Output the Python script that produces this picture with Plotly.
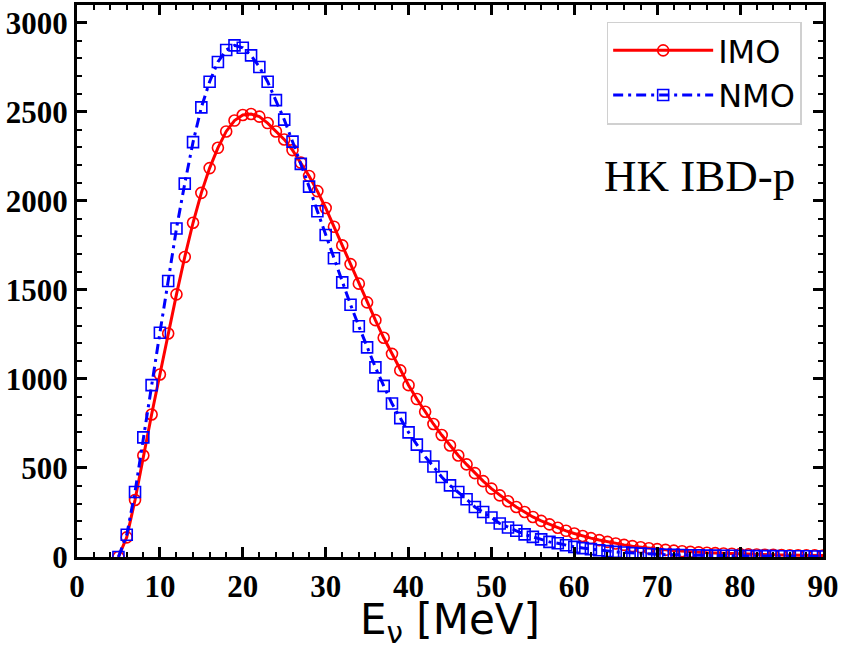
import plotly.graph_objects as go

# neutrino energy grid [MeV]
energy = list(range(5, 91))

# event spectra
imo_counts = [
    0, 110, 320, 570, 800, 1025, 1255, 1475, 1685, 1877,
    2045, 2184, 2298, 2390, 2451, 2482, 2488, 2473, 2437, 2390,
    2345, 2285, 2215, 2140, 2055, 1960, 1855, 1750, 1645, 1535,
    1430, 1330, 1231, 1141, 1048, 965, 887, 816, 747, 685,
    626, 570, 520, 471, 426, 384, 346, 313, 281, 253,
    225, 203, 183, 164, 147, 132, 118, 106, 95, 85,
    76, 68, 61, 55, 49, 44, 40, 36, 32, 29,
    26, 24, 22, 20, 18, 16, 15, 14, 13, 12,
    11, 10, 10, 9, 9, 8,
]
nmo_counts = [
    0, 125, 365, 672, 965, 1259, 1550, 1845, 2097, 2330,
    2525, 2669, 2780, 2847, 2873, 2860, 2817, 2752, 2669, 2566,
    2456, 2333, 2208, 2080, 1942, 1808, 1678, 1542, 1417, 1296,
    1177, 1065, 961, 862, 780, 700, 631, 564, 508, 449,
    402, 365, 324, 281, 253, 222, 188, 166, 147, 127,
    113, 99, 85, 77, 66, 57, 50, 44, 38, 33,
    29, 25, 22, 19, 17, 15, 13, 12, 11, 10,
    9, 8, 8, 7, 7, 6, 6, 5, 5, 5,
    4, 4, 4, 4, 3, 3,
]

x_ticks = [0, 10, 20, 30, 40, 50, 60, 70, 80, 90]
y_ticks = [0, 500, 1000, 1500, 2000, 2500, 3000]

fig = go.Figure()

fig.add_trace(go.Scatter(
    x=energy, y=imo_counts, name="IMO", mode="lines+markers",
    line=dict(color="#ff0000", width=3),
    marker=dict(symbol="circle-open", size=11, color="#ff0000", line=dict(width=1.6)),
))
fig.add_trace(go.Scatter(
    x=energy, y=nmo_counts, name="NMO", mode="lines+markers",
    line=dict(color="#0000ff", width=3, dash="10px,5px,3px,5px"),
    marker=dict(symbol="square-open", size=11, color="#0000ff", line=dict(width=1.6)),
))

tick_font = dict(family="Liberation Serif", size=31, color="black", weight="bold")
axis_common = dict(
    showline=True, linecolor="black", linewidth=3, mirror="allticks",
    ticks="inside", ticklen=10, tickwidth=3, tickcolor="black",
    showgrid=False, zeroline=False, tickfont=tick_font,
)

fig.update_xaxes(
    range=[0, 90], tickvals=x_ticks,
    minor=dict(dtick=2, ticks="inside", ticklen=5, tickwidth=1.5, tickcolor="black"),
    title=dict(text="E<sub>ν</sub> [MeV]", font=dict(family="DejaVu Sans", size=42, color="black"),
               standoff=13),
    **axis_common,
)
fig.update_yaxes(
    range=[0, 3100], tickvals=y_ticks,
    minor=dict(dtick=100, ticks="inside", ticklen=5, tickwidth=1.5, tickcolor="black"),
    **axis_common,
)

fig.add_annotation(
    text="HK IBD-p", xref="paper", yref="paper", x=0.965, y=0.69,
    xanchor="right", yanchor="middle", showarrow=False,
    font=dict(family="Liberation Serif", size=45, color="black"),
)

fig.update_layout(
    width=842, height=650,
    margin=dict(l=77, r=19, t=2, b=93),
    plot_bgcolor="white", paper_bgcolor="white",
    legend=dict(
        x=0.71, y=0.97, xanchor="left", yanchor="top",
        font=dict(family="DejaVu Sans", size=32, color="black"),
        bgcolor="white", bordercolor="#d0d0d0", borderwidth=1.5,
        itemwidth=100,
    ),
)

# drop the page's default body margin so the figure sits at the window corner
fig.write_html("out.html", config={"displayModeBar": False},
               post_script="document.body.style.margin='0';")
